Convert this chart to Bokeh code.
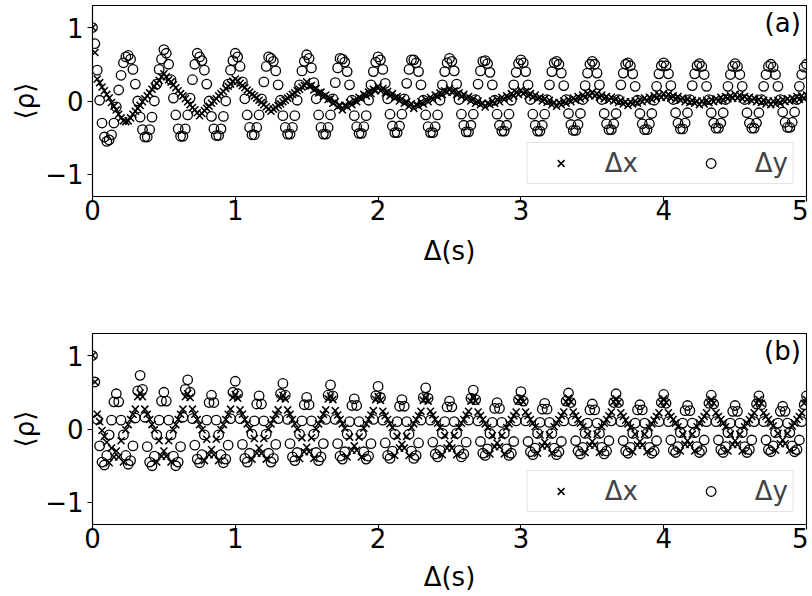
from bokeh.plotting import figure
from bokeh.models import Range1d, FixedTicker, Label, Legend, LegendItem
from bokeh.layouts import column
from bokeh.embed import file_html
from bokeh.resources import INLINE

# sample spacing (s)
dt = 1.0 / 60.0

# Panel (a): Delta x
xa = [1.0, .66, .30, .25, .19, .14, .09, .04, -.02, -.07, -.12, -.18, -.23, -.27, -.28, -.27, -.23, -.18, -.14, -.10, -.06, -.01, .03, .07, .11, .16, .20, .24, .28, .33,
      .37, .33, .29, .26, .22, .18, .14, .10, .07, .03, -.01, -.05, -.09, -.12, -.16, -.20, -.17, -.13, -.10, -.07, -.03, .00, .03, .07, .10, .13, .17, .20, .23, .27,
      .30, .27, .24, .21, .18, .15, .12, .09, .07, .04, .01, -.02, -.05, -.08, -.11, -.14, -.11, -.09, -.06, -.04, -.01, .01, .04, .06, .09, .11, .14, .16, .19, .21,
      .26, .20, .21, .15, .17, .11, .12, .06, .08, .02, .03, -.03, -.01, -.08, -.06, -.12, -.06, -.08, -.02, -.05, .01, -.01, .05, .03, .09, .07, .12, .10, .16, .14,
      .20, .14, .17, .11, .13, .07, .10, .04, .06, .00, .03, -.03, -.01, -.07, -.04, -.10, -.05, -.07, -.01, -.04, .02, -.01, .05, .02, .08, .06, .11, .09, .14, .12,
      .17, .12, .14, .09, .11, .06, .09, .03, .06, .00, .03, -.03, .00, -.05, -.03, -.08, -.03, -.05, .00, -.03, .02, -.01, .05, .02, .07, .04, .10, .07, .12, .09,
      .15, .10, .13, .07, .10, .05, .08, .03, .05, .00, .03, -.02, .01, -.05, -.02, -.07, -.02, -.05, .00, -.03, .02, -.01, .04, .01, .06, .03, .08, .05, .10, .07,
      .12, .07, .10, .05, .08, .03, .06, .01, .05, .00, .03, -.02, .01, -.04, -.01, -.06, -.01, -.04, .00, -.03, .02, -.01, .04, .00, .05, .02, .07, .04, .08, .05,
      .10, .05, .09, .04, .07, .02, .06, .01, .04, -.01, .03, -.02, .01, -.03, .00, -.05, .00, -.04, .01, -.02, .02, -.01, .03, .00, .05, .01, .06, .03, .07, .04,
      .09, .04, .08, .03, .06, .02, .05, .00, .04, -.01, .02, -.02, .01, -.04, .00, -.05, .00, -.04, .01, -.03, .02, -.01, .03, .00, .04, .01, .06, .02, .07, .03,
      .08]

# Panel (a): Delta y
ya = [1.0, .78, .42, .01, -.30, -.49, -.55, -.53, -.46, -.30, -.08, .15, .35, .52, .60,
      .62, .57, .43, .23, .00, -.22, -.39, -.49, -.49, -.39, -.22, .00, .23, .43, .57,
      .70, .65, .50, .29, .04, -.19, -.38, -.48, -.48, -.38, -.19, .04, .29, .50, .65,
      .60, .55, .42, .23, .00, -.21, -.38, -.47, -.47, -.38, -.21, .00, .23, .42, .55,
      .65, .60, .47, .26, .03, -.19, -.36, -.46, -.46, -.36, -.19, .03, .26, .47, .60,
      .58, .54, .41, .22, .01, -.20, -.36, -.45, -.45, -.36, -.20, .01, .22, .41, .54,
      .63, .58, .45, .25, .03, -.19, -.36, -.45, -.45, -.36, -.19, .03, .25, .45, .58,
      .57, .53, .40, .22, .01, -.20, -.35, -.44, -.44, -.35, -.20, .01, .22, .40, .53,
      .60, .56, .43, .24, .03, -.18, -.34, -.43, -.43, -.34, -.18, .03, .24, .43, .56,
      .56, .52, .40, .22, .01, -.19, -.35, -.43, -.43, -.35, -.19, .01, .22, .40, .52,
      .58, .54, .41, .23, .02, -.18, -.33, -.42, -.42, -.33, -.18, .02, .23, .41, .54,
      .55, .51, .39, .22, .01, -.18, -.33, -.41, -.41, -.33, -.18, .01, .22, .39, .51,
      .56, .52, .40, .22, .02, -.18, -.33, -.41, -.41, -.33, -.18, .02, .22, .40, .52,
      .54, .50, .38, .21, .02, -.17, -.32, -.40, -.40, -.32, -.17, .02, .21, .38, .50,
      .54, .50, .38, .22, .02, -.17, -.31, -.39, -.39, -.31, -.17, .02, .22, .38, .50,
      .52, .48, .37, .20, .01, -.17, -.31, -.39, -.39, -.31, -.17, .01, .20, .37, .48,
      .52, .48, .37, .21, .02, -.16, -.30, -.38, -.38, -.30, -.16, .02, .21, .37, .48,
      .51, .47, .36, .20, .02, -.16, -.30, -.37, -.37, -.30, -.16, .02, .20, .36, .47,
      .51, .47, .36, .20, .02, -.16, -.30, -.37, -.37, -.30, -.16, .02, .20, .36, .47,
      .50, .46, .36, .20, .02, -.15, -.29, -.36, -.36, -.29, -.15, .02, .20, .36, .46,
      .50]

# Panel (b): Delta x
xb = [1.0, .64, .20, .10, -.02, -.10, -.18, -.46, -.26, -.38, -.30, -.38, -.16, -.45, -.01, .06, .13, .20, .27, .44,
      .49, .44, .27, .20, .13, .06, -.01, -.45, -.16, -.37, -.30, -.37, -.16, -.45, -.01, .06, .13, .20, .27, .44,
      .48, .43, .27, .20, .13, .06, -.01, -.43, -.14, -.35, -.28, -.35, -.14, -.43, -.01, .06, .13, .20, .27, .43,
      .47, .42, .26, .20, .13, .07, .00, -.41, -.13, -.33, -.26, -.33, -.13, -.41, .00, .07, .13, .20, .26, .42,
      .46, .41, .26, .20, .13, .07, .00, -.40, -.12, -.31, -.25, -.31, -.12, -.40, .00, .07, .13, .20, .26, .41,
      .45, .40, .25, .19, .13, .07, .01, -.38, -.11, -.29, -.23, -.29, -.11, -.38, .01, .07, .13, .19, .25, .40,
      .44, .39, .24, .18, .13, .07, .02, -.36, -.10, -.26, -.21, -.26, -.10, -.36, .02, .07, .13, .18, .24, .39,
      .43, .38, .24, .19, .13, .08, .02, -.35, -.09, -.26, -.20, -.26, -.09, -.35, .02, .08, .13, .19, .24, .38,
      .43, .38, .23, .18, .13, .07, .02, -.34, -.09, -.24, -.19, -.24, -.09, -.34, .02, .07, .13, .18, .23, .38,
      .42, .37, .23, .18, .13, .08, .03, -.33, -.08, -.23, -.18, -.23, -.08, -.33, .03, .08, .13, .18, .23, .37,
      .42, .37, .23, .18, .13, .08, .03, -.32, -.07, -.22, -.17, -.22, -.07, -.32, .03, .08, .13, .18, .23, .37,
      .41, .36, .22, .17, .12, .07, .02, -.31, -.07, -.22, -.17, -.22, -.07, -.31, .02, .07, .12, .17, .22, .36,
      .41, .36, .22, .17, .13, .08, .03, -.30, -.07, -.21, -.16, -.21, -.07, -.30, .03, .08, .13, .17, .22, .36,
      .40, .35, .22, .17, .13, .08, .03, -.30, -.07, -.21, -.16, -.21, -.07, -.30, .03, .08, .13, .17, .22, .35,
      .40, .35, .22, .17, .13, .08, .04, -.29, -.06, -.20, -.15, -.20, -.06, -.29, .04, .08, .13, .17, .22, .35,
      .40]

# Panel (b): Delta y
yb = [1.0, .64, .13, -.23, -.45, -.49, -.36, -.08, .12, .37, .48, .37, .12, -.08, -.36, -.48, -.43, -.23, .15, .52,
      .73, .54, .16, -.24, -.45, -.50, -.37, -.08, .12, .38, .50, .38, .12, -.08, -.37, -.50, -.45, -.24, .16, .54,
      .67, .50, .14, -.22, -.41, -.46, -.35, -.08, .12, .36, .46, .36, .12, -.08, -.35, -.46, -.41, -.22, .14, .50,
      .65, .48, .14, -.21, -.40, -.45, -.33, -.07, .11, .34, .45, .34, .11, -.07, -.33, -.45, -.40, -.21, .14, .48,
      .62, .46, .13, -.20, -.38, -.43, -.32, -.07, .11, .33, .43, .33, .11, -.07, -.32, -.43, -.38, -.20, .13, .46,
      .60, .45, .13, -.20, -.37, -.41, -.31, -.07, .10, .32, .41, .32, .10, -.07, -.31, -.41, -.37, -.20, .13, .45,
      .58, .43, .12, -.19, -.36, -.40, -.30, -.07, .10, .31, .40, .31, .10, -.07, -.30, -.40, -.36, -.19, .12, .43,
      .56, .42, .12, -.18, -.34, -.38, -.29, -.06, .10, .30, .38, .30, .10, -.06, -.29, -.38, -.34, -.18, .12, .42,
      .53, .40, .11, -.17, -.33, -.36, -.27, -.06, .09, .28, .36, .28, .09, -.06, -.27, -.36, -.33, -.17, .11, .40,
      .51, .38, .11, -.17, -.31, -.35, -.26, -.06, .09, .27, .35, .27, .09, -.06, -.26, -.35, -.31, -.17, .11, .38,
      .49, .36, .11, -.16, -.30, -.34, -.25, -.06, .08, .26, .34, .26, .08, -.06, -.25, -.34, -.30, -.16, .11, .36,
      .48, .36, .10, -.16, -.30, -.33, -.25, -.06, .08, .26, .33, .26, .08, -.06, -.25, -.33, -.30, -.16, .10, .36,
      .47, .35, .10, -.15, -.29, -.32, -.24, -.05, .08, .25, .32, .25, .08, -.05, -.24, -.32, -.29, -.15, .10, .35,
      .46, .34, .10, -.15, -.28, -.32, -.24, -.05, .08, .24, .32, .24, .08, -.05, -.24, -.32, -.28, -.15, .10, .34,
      .45, .33, .10, -.15, -.28, -.31, -.23, -.05, .08, .24, .31, .24, .08, -.05, -.23, -.31, -.28, -.15, .10, .33,
      .45]

x_ticks = [0, 1, 2, 3, 4, 5]
y_ticks = [-1, 0, 1]
y_tick_labels = {-1: "\u22121", 0: "0", 1: "1"}
panel_tags = ["(a)", "(b)"]

FONT = "DejaVu Sans"
FS = "26px"


def make_panel(xs, ys, tag, height, top, bottom, xlabel_standoff):
    t = [i * dt for i in range(len(xs))]
    p = figure(width=808, height=height, x_range=Range1d(0, 5), y_range=Range1d(-1.3, 1.3),
               output_backend="svg", toolbar_location=None,
               min_border_left=92, min_border_right=2, min_border_top=top, min_border_bottom=bottom)
    p.xgrid.visible = False
    p.ygrid.visible = False
    p.outline_line_color = "black"
    p.outline_line_width = 1.1
    p.outline_line_alpha = 1.0
    for ax in (p.xaxis[0], p.yaxis[0]):
        ax.axis_line_color = "black"
        ax.axis_line_width = 1.1
        ax.major_tick_line_color = "black"
        ax.major_tick_line_width = 1.1
        ax.major_tick_out = 5
        ax.major_tick_in = 0
        ax.minor_tick_line_color = None
        ax.major_label_text_font = FONT
        ax.major_label_text_font_size = FS
        ax.major_label_text_color = "black"
        ax.axis_label_text_font = FONT
        ax.axis_label_text_font_size = FS
        ax.axis_label_text_font_style = "normal"
        ax.axis_label_text_color = "black"
    p.xaxis.ticker = FixedTicker(ticks=x_ticks)
    p.yaxis.ticker = FixedTicker(ticks=y_ticks)
    p.yaxis.major_label_overrides = y_tick_labels
    p.xaxis.major_label_standoff = -2
    p.yaxis.major_label_standoff = 4
    p.xaxis.axis_label = "\u0394(s)"
    p.yaxis.axis_label = "\u27e8\u03c1\u27e9"
    p.xaxis.axis_label_standoff = xlabel_standoff
    p.yaxis.axis_label_standoff = 2

    rx = p.scatter(t, xs, marker="x", size=10, line_color="black", line_width=1.5)
    ry = p.scatter(t, ys, marker="circle", size=9.5, line_color="black", line_width=1.3,
                   fill_color=None)

    leg = Legend(items=[LegendItem(label="\u0394x", renderers=[rx]),
                        LegendItem(label="\u0394y", renderers=[ry])],
                 location="bottom_right", orientation="horizontal")
    leg.label_text_font = FONT
    leg.label_text_font_size = FS
    leg.glyph_width = 56
    leg.glyph_height = 24
    leg.label_standoff = 16
    leg.spacing = 45
    leg.padding = 5
    leg.margin = 12
    leg.border_line_color = "#cccccc"
    leg.border_line_width = 1
    leg.background_fill_alpha = 0.8
    p.add_layout(leg)

    p.add_layout(Label(x=4.96, y=1.06, text=tag, text_align="right", text_baseline="middle",
                       text_font=FONT, text_font_size=FS, text_color="black"))
    return p


pa = make_panel(xa, ya, panel_tags[0], 304, 5, 108, 13)
pb = make_panel(xb, yb, panel_tags[1], 290, 29, 68, 11)

layout = column(pa, pb)
open("out.html", "w").write(file_html(layout, INLINE))
